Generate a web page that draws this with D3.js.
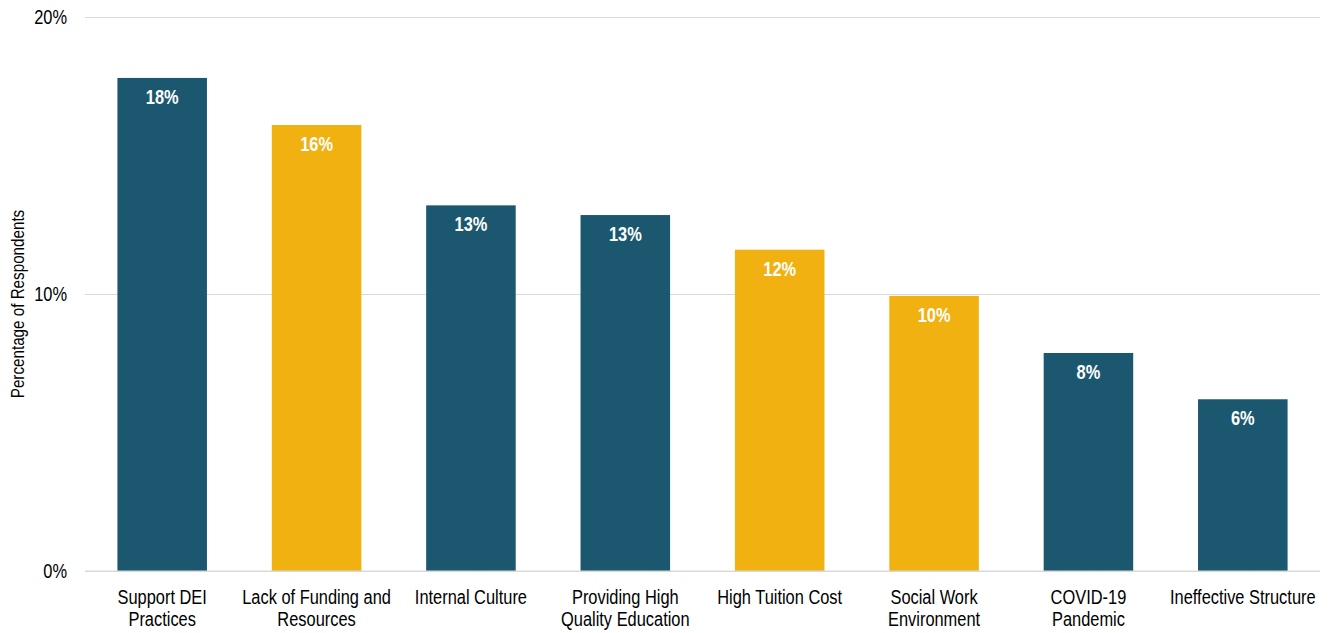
<!DOCTYPE html>
<html>
<head>
<meta charset="utf-8">
<script src="https://cdn.jsdelivr.net/npm/d3@7"></script>
<style>
  html, body { margin: 0; padding: 0; background: #fff; }
  svg { display: block; font-family: "Liberation Sans Narrow", "Arial Narrow", "Liberation Sans", Arial, sans-serif; }
</style>
</head>
<body>
<svg id="chart" width="1332" height="633"></svg>
<script>
// Share of respondents naming each challenge (percent)
const categories = [
  ["Support DEI", "Practices"],
  ["Lack of Funding and", "Resources"],
  ["Internal Culture"],
  ["Providing High", "Quality Education"],
  ["High Tuition Cost"],
  ["Social Work", "Environment"],
  ["COVID-19", "Pandemic"],
  ["Ineffective Structure"]
];
const values = [17.8, 16.1, 13.2, 12.85, 11.6, 9.93, 7.87, 6.2];
const groups = ["teal", "gold", "teal", "teal", "gold", "gold", "teal", "teal"];
const yTicks = [0, 10, 20];
const yTitle = "Percentage of Respondents";

const colors = { teal: "#1B5870", gold: "#F0B111" };

const svg = d3.select("#chart");
const margin = { left: 85, right: 12, top: 17, bottom: 62 };
const W = 1332, H = 633;

// squeeze glyphs horizontally to get a condensed face from a regular one
function condense(sel, f) {
  sel.each(function() {
    const len = this.getComputedTextLength();
    if (len > 0) {
      this.setAttribute("textLength", len * f);
      this.setAttribute("lengthAdjust", "spacingAndGlyphs");
    }
  });
}

const x = d3.scaleBand()
  .domain(d3.range(values.length))
  .range([margin.left, W - margin.right])
  .paddingInner(0.42)
  .paddingOuter(0.21);

const y = d3.scaleLinear().domain([0, 20]).range([H - margin.bottom, margin.top]);

// gridlines and tick labels
const yAxis = d3.axisLeft(y).tickValues(yTicks).tickFormat(d => d + "%")
  .tickSize(-(W - margin.left - margin.right)).tickPadding(18);
const gy = svg.append("g").attr("transform", `translate(${margin.left},0)`).call(yAxis);
gy.select(".domain").remove();
gy.selectAll(".tick line").attr("stroke", "#d9d9d9").attr("stroke-width", 1);
gy.selectAll(".tick text").attr("fill", "#000").style("font-size", "20px")
  .style("font-family", "inherit");
condense(gy.selectAll(".tick text"), 0.82);

// y title
const yt = svg.append("text")
  .attr("transform", `translate(24,${(margin.top + H - margin.bottom) / 2 + 10}) rotate(-90)`)
  .attr("text-anchor", "middle")
  .style("font-size", "19px")
  .text(yTitle);
condense(yt, 0.8);

// bars
svg.append("g").selectAll("rect").data(values).join("rect")
  .attr("x", (d, i) => x(i))
  .attr("width", x.bandwidth())
  .attr("y", d => y(d))
  .attr("height", d => y(0) - y(d))
  .attr("fill", (d, i) => colors[groups[i]]);

// value labels
const vl = svg.append("g").selectAll("text").data(values).join("text")
  .attr("x", (d, i) => x(i) + x.bandwidth() / 2)
  .attr("y", d => y(d) + 26)
  .attr("text-anchor", "middle")
  .attr("fill", "#fff")
  .style("font-weight", "bold")
  .style("font-size", "20px")
  .text(d => Math.round(d) + "%");
condense(vl, 0.82);

// baseline
svg.append("line")
  .attr("x1", margin.left).attr("x2", W - margin.right)
  .attr("y1", y(0)).attr("y2", y(0))
  .attr("stroke", "#d9d9d9");

// category labels
const xl = svg.append("g").selectAll("text").data(categories).join("text")
  .attr("x", (d, i) => x(i) + x.bandwidth() / 2)
  .attr("y", H - margin.bottom + 33)
  .attr("text-anchor", "middle")
  .style("font-size", "20px")
  .attr("fill", "#000");
const tsp = xl.selectAll("tspan").data(d => d).join("tspan")
  .attr("x", function() { return this.parentNode.getAttribute("x"); })
  .attr("dy", (d, i) => i === 0 ? 0 : 22)
  .text(d => d);
condense(tsp, 0.82);
</script>
</body>
</html>
